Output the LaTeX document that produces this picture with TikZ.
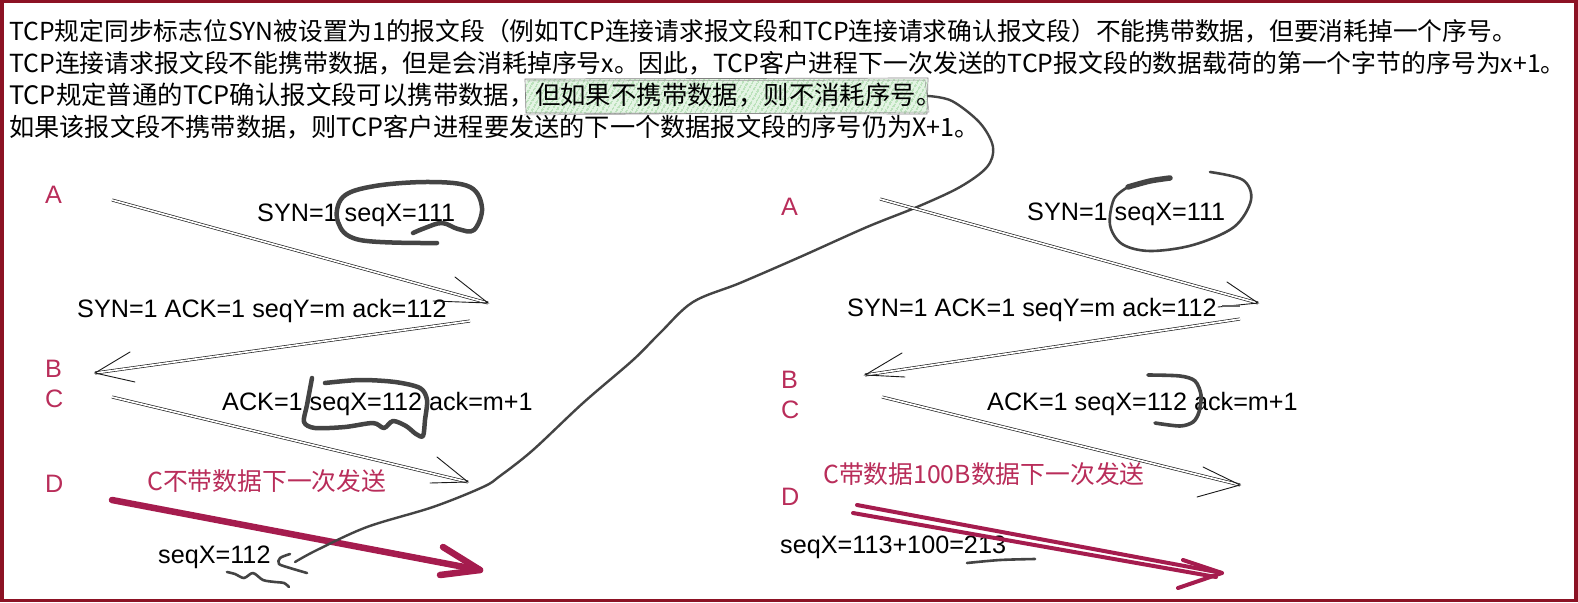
\documentclass[tikz,border=0pt]{standalone}
\usepackage{fontspec}
\setmainfont{Liberation Sans}
\newfontfamily\cjk{Noto Sans CJK SC}
\usetikzlibrary{patterns.meta}
\definecolor{framec}{RGB}{140,18,36}
\definecolor{lab}{RGB}{185,45,90}
\definecolor{fatc}{RGB}{165,28,78}
\definecolor{penc}{RGB}{68,68,68}
\begin{document}
\begin{tikzpicture}[x=1pt,y=-1pt,
  lbl/.style={anchor=base west,inner sep=0pt,font=\fontsize{25.2}{28}\selectfont},
  redlbl/.style={lbl,text=lab},
  redcjk/.style={anchor=base west,inner sep=0pt,text=lab,font=\cjk\fontsize{24.8}{28}\selectfont},
  toptxt/.style={anchor=base west,inner sep=0pt,font=\cjk\fontsize{#1}{28}\selectfont},
  dblline/.style={draw=black!90,line width=0.65pt,double=white,double distance=1.7pt},
  tipline/.style={draw=black!90,line width=0.9pt,line cap=round},
  hand/.style={draw=penc,line width=4.5pt,line cap=round,line join=round},
  handthin/.style={draw=penc,line width=2.6pt,line cap=round,line join=round},
  fatred/.style={draw=fatc,line width=6.5pt,line cap=round,line join=round},
  fatred2/.style={draw=fatc,line width=4pt,line cap=round,line join=round},
]
\useasboundingbox (0,0) rectangle (1578,602);
\fill[white] (0,0) rectangle (1578,602);

% highlight box (behind text)
\fill[fill={rgb,255:red,228;green,244;blue,228}] (526,79) rectangle (927,113);
\fill[pattern={Lines[angle=60,distance=4pt,line width=0.8pt]},
      pattern color={rgb,255:red,115;green,195;blue,115}] (526,79) rectangle (927,113);
\draw[black!50,line width=0.7pt] (525,79) -- (928,78) -- (927,114) -- (526,113) -- cycle;
\draw[black!40,line width=0.5pt] (527,81) -- (925,80) -- (929,112) -- (524,115);

% top text
\node[toptxt=24.75] (t1) at (9,41) {TCP规定同步标志位SYN被设置为1的报文段（例如TCP连接请求报文段和TCP连接请求确认报文段）不能携带数据，但要消耗掉一个序号。};
\node[toptxt=24.85] (t2) at (9,72) {TCP连接请求报文段不能携带数据，但是会消耗掉序号x。因此，TCP客户进程下一次发送的TCP报文段的数据载荷的第一个字节的序号为x+1。};
\node[toptxt=25.4] (t3a) at (9,104) {TCP规定普通的TCP确认报文段可以携带数据，};
\node[toptxt=25.4] (t3b) at (t3a.base east) {但如果不携带数据，则不消耗序号。};
\node[toptxt=25.2] (t4) at (9,136) {如果该报文段不携带数据，则TCP客户进程要发送的下一个数据报文段的序号仍为X+1。};

% ---------- left diagram ----------
\node[redlbl] (lA) at (45,203) {A};
\node[redlbl] (lB) at (45,377) {B};
\node[redlbl] (lC) at (45,407) {C};
\node[redlbl] (lD) at (45,492) {D};
\node[lbl] (lsyn) at (257,221) {SYN=1 seqX=111};
\node[lbl] (lsynack) at (77,317) {SYN=1 ACK=1 seqY=m ack=112};
\node[lbl] (lack) at (222,410) {ACK=1 seqX=112 ack=m+1};
\node[redcjk] (lnote) at (147,490) {C不带数据下一次发送};
\node[lbl] (lseq) at (158,563) {seqX=112};

\coordinate (a1s) at (112,200); \coordinate (a1e) at (488,303);
\coordinate (a2s) at (470,321); \coordinate (a2e) at (95,373);
\coordinate (a3s) at (112,397); \coordinate (a3e) at (468,482);
\coordinate (a4s) at (112,500); \coordinate (a4e) at (480,570);
\draw[dblline] (a1s) -- (a1e);
\draw[tipline] (455,277) -- (a1e) -- (433,301);
\draw[dblline] (a2s) -- (a2e);
\draw[tipline] (130,352) -- (a2e) -- (135,382);
\draw[dblline] (a3s) -- (a3e);
\draw[tipline] (437,457) -- (a3e) -- (430,483);
\draw[fatred] (a4s) -- (a4e);
\draw[fatred] (443,547) -- (a4e) -- (440,575);

% loops left
\draw[hand] plot[smooth,tension=0.6] coordinates {(437,243) (360,240) (338,222) (343,197) (375,186) (430,182) (470,187) (482,208) (474,230) (458,229) (442,223) (425,228) (413,233)};
\draw[hand] plot[smooth,tension=0.5] coordinates {(312,378) (307,405) (304,422) (315,428) (345,427) (373,423) (384,428) (393,421) (406,426) (416,434) (423,436) (425,420) (427,400) (420,388) (395,382) (360,380) (325,383)};
\draw[handthin] plot[smooth,tension=0.5] coordinates {(290,554) (280,558) (279,564) (290,568) (307,573)};
\draw[handthin] plot[smooth,tension=0.5] coordinates {(227,572) (235,574) (244,578) (253,573) (263,580) (275,582) (284,583) (289,587)};

% long curve
\draw[draw=penc,line width=2.4pt,line cap=round] plot[smooth,tension=0.55] coordinates {(928,96) (952,101) (980,123) (993,147) (987,167) (960,187) (917,207) (867,227) (800,257) (740,283) (693,302) (660,333) (633,360) (583,403) (533,450) (500,476) (483,487) (433,507) (367,527) (317,550) (295,562)};

% ---------- right diagram ----------
\node[redlbl] (rA) at (781,215) {A};
\node[redlbl] (rB) at (781,388) {B};
\node[redlbl] (rC) at (781,418) {C};
\node[redlbl] (rD) at (781,505) {D};
\node[lbl] (rsyn) at (1027,220) {SYN=1 seqX=111};
\node[lbl] (rsynack) at (847,316) {SYN=1 ACK=1 seqY=m ack=112};
\node[lbl] (rack) at (987,410) {ACK=1 seqX=112 ack=m+1};
\node[redcjk] (rnote) at (823,483) {C带数据100B数据下一次发送};
\node[lbl] (rseq) at (780,553) {seqX=113+100=213};

\coordinate (b1s) at (880,199); \coordinate (b1e) at (1258,303);
\coordinate (b2s) at (1240,319); \coordinate (b2e) at (865,375);
\coordinate (b3s) at (882,397); \coordinate (b3e) at (1240,485);
\coordinate (b4s) at (857,505); \coordinate (b4e) at (1222,573);
\coordinate (b5s) at (853,513); \coordinate (b5e) at (1216,577);
\draw[dblline] (b1s) -- (b1e);
\draw[tipline] (1227,282) -- (b1e) -- (1218,307);
\draw[draw=black!60,line width=1.6pt] (1222,306) -- (1240,306);
\draw[dblline] (b2s) -- (b2e);
\draw[tipline] (902,353) -- (b2e) -- (905,377);
\draw[dblline] (b3s) -- (b3e);
\draw[tipline] (1203,467) -- (b3e) -- (1197,497);
\draw[fatred2] (b4s) -- (b4e);
\draw[fatred2] (b5s) -- (b5e);
\draw[fatred2] (1183,560) -- (b4e) -- (1178,588);

\draw[handthin] plot[smooth,tension=0.55] coordinates {(1210,172) (1243,180) (1251,200) (1234,227) (1193,245) (1150,251) (1122,244) (1110,225) (1114,199) (1128,187)};
\draw[hand,line width=5.5pt] plot[smooth,tension=0.5] coordinates {(1128,187) (1150,181) (1170,178)};
\draw[hand,line width=3.6pt] plot[smooth,tension=0.5] coordinates {(1148,375) (1180,376) (1195,381) (1201,395) (1199,412) (1193,422) (1180,426) (1155,423)};
\draw[handthin] plot[smooth,tension=0.5] coordinates {(967,563) (1000,560) (1035,559)};

% frame
\draw[framec,line width=3.5pt] (1.75,1.75) rectangle (1576,600.25);
\end{tikzpicture}
\end{document}
